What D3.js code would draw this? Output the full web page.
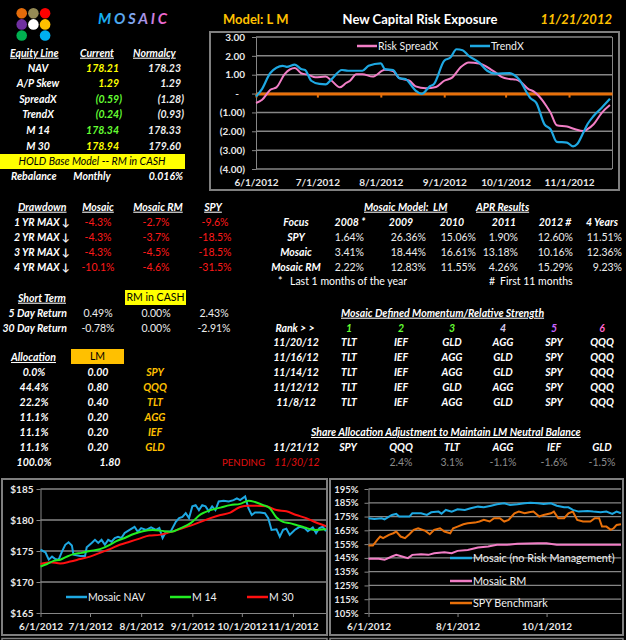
<!DOCTYPE html>
<html>
<head>
<meta charset="utf-8">
<script src="https://cdn.jsdelivr.net/npm/d3@7"></script>
<style>
  body { margin: 0; background: #000; }
  svg { display: block; }
  text { font-family: Lato, "DejaVu Sans", sans-serif; }
</style>
</head>
<body>
<svg width="626" height="640"></svg>
<script>
// ---- data ----
var riskTicks = [3, 2, 1, 0, -1, -2, -3, -4];
var monthTicks = ["6/1", "7/1", "8/1", "9/1", "10/1", "11/1"];
var spreadDates = ["6/1","6/4","6/8","6/11","6/15","6/20","6/23","6/27","6/30","7/5","7/8","7/12","7/15","7/17","7/20","7/23","7/28","8/3","8/7","8/10","8/15","8/18","8/23","8/28","9/1","9/5","9/9","9/13","9/18","9/21","9/24","9/26","9/29","10/3","10/6","10/8","10/12","10/15","10/17","10/21","10/23","10/26","10/31","11/4","11/8","11/10","11/13","11/17","11/21"];
var spreadValues = [-0.50,-0.33,0.20,0.33,1.03,1.35,1.09,0.98,0.86,0.90,0.68,0.33,0.56,0.68,1.03,1.03,0.90,1.26,1.20,0.82,0.68,0.38,0.28,0.35,0.68,0.86,1.39,1.65,1.60,1.47,1.26,1.12,0.88,0.77,0.74,0.65,0.25,0.09,-0.10,-0.67,-1.02,-1.68,-1.75,-1.89,-1.98,-1.89,-1.63,-1.02,-0.61];
var trendDates = ["6/1","6/4","6/8","6/14","6/16","6/20","6/23","6/25","6/28","7/2","7/5","7/8","7/13","7/16","7/23","7/26","8/1","8/3","8/7","8/10","8/13","8/18","8/21","8/25","8/27","9/1","9/4","9/7","9/10","9/13","9/18","9/22","9/26","10/3","10/5","10/8","10/11","10/13","10/16","10/20","10/23","10/26","10/31","11/3","11/5","11/8","11/10","11/13","11/17","11/21"];
var trendValues = [-0.16,0.25,1.09,1.47,1.42,1.54,1.30,1.25,0.68,0.51,0.49,0.77,1.25,1.21,1.21,1.47,1.60,1.30,1.25,0.82,0.77,0.16,-0.02,0.39,0.51,1.74,1.91,2.35,2.30,2.00,1.65,1.21,1.06,1.08,1.00,0.70,0.12,-0.23,-0.49,-1.63,-1.90,-2.56,-2.60,-2.80,-2.68,-2.07,-1.63,-1.19,-0.75,-0.28];

var navTicks = [165, 170, 175, 180, 185];
var navDates = ["6/1","6/4","6/6","6/8","6/10","6/12","6/14","6/16","6/18","6/20","6/21","6/25","6/28","6/29","7/2","7/4","7/6","7/8","7/10","7/12","7/14","7/16","7/18","7/20","7/22","7/25","7/28","7/30","8/1","8/4","8/7","8/10","8/12","8/14","8/16","8/19","8/22","8/24","8/26","8/28","8/30","9/1","9/3","9/5","9/7","9/9","9/11","9/13","9/15","9/17","9/20","9/23","9/26","9/28","9/30","10/3","10/5","10/7","10/9","10/12","10/15","10/17","10/19","10/22","10/24","10/26","10/28","10/30","11/2","11/5","11/8","11/10","11/13","11/15","11/17","11/19","11/21"];
var navValues = [175.2,174.8,173.6,174.1,173.7,173.6,174.9,176.0,176.4,175.9,174.4,174.2,174.2,175.6,176.3,176.8,176.3,176.8,176.0,176.8,176.5,177.1,177.3,177.1,177.9,178.4,178.9,178.1,178.7,178.4,178.8,178.4,178.7,177.1,178.1,178.2,179.7,180.3,180.5,181.1,180.3,182.2,182.4,181.6,182.4,182.2,181.4,182.2,181.6,183.0,183.1,183.0,183.2,183.5,183.2,183.8,181.9,180.8,181.2,181.2,181.1,180.3,178.4,178.5,177.3,178.4,178.6,177.6,178.4,178.9,178.7,178.2,178.8,177.9,178.7,178.9,178.2];
var m14Dates = ["6/1","6/5","6/9","6/13","6/17","6/21","6/26","7/1","7/7","7/13","7/17","7/22","7/27","8/2","8/8","8/15","8/19","8/25","8/31","9/6","9/12","9/18","9/24","9/30","10/5","10/9","10/14","10/18","10/22","10/26","10/30","11/3","11/8","11/14","11/21"];
var m14Values = [172.5,172.9,173.4,173.6,174.1,174.5,174.7,175.0,175.3,176.0,176.6,177.1,177.7,178.2,178.4,178.2,178.1,178.7,179.5,180.9,181.6,182.0,182.4,182.6,183.1,182.9,182.4,181.9,180.4,179.7,179.5,179.2,178.8,178.4,178.5];
var m30Dates = ["6/1","6/7","6/13","6/19","6/25","7/1","7/7","7/13","7/19","7/25","7/31","8/6","8/12","8/18","8/25","8/31","9/6","9/12","9/18","9/24","9/30","10/5","10/10","10/16","10/22","10/28","11/3","11/9","11/15","11/21"];
var m30Values = [172.9,173.2,173.0,173.3,173.7,174.1,174.7,175.3,176.0,176.5,177.0,177.5,177.6,178.0,178.6,179.1,179.7,180.3,180.8,181.2,182.1,182.3,182.3,182.2,181.6,181.4,180.8,180.3,179.6,179.0];

var growthTicks = [105, 115, 125, 135, 145, 155, 165, 175, 185, 195];
var growthMonths = ["6/1", "8/1", "10/1"];
var noRmDates = ["6/1","6/5","6/10","6/12","6/17","6/20","6/22","6/29","7/1","7/7","7/11","7/14","7/19","7/21","7/24","7/28","8/1","8/6","8/10","8/15","8/19","8/24","8/28","9/2","9/6","9/11","9/16","9/20","9/25","9/29","10/4","10/8","10/13","10/16","10/19","10/23","10/29","11/2","11/7","11/11","11/15","11/18","11/21"];
var noRmValues = [173.8,173.3,173.8,173.0,176.2,176.9,175.0,175.0,177.4,177.4,176.2,178.1,178.6,177.1,179.8,178.6,180.3,179.8,181.0,182.2,181.7,182.9,183.9,184.6,183.4,183.9,184.6,185.1,184.6,184.1,184.6,182.9,181.7,181.7,179.8,178.6,179.1,178.6,178.1,178.6,176.9,178.6,177.4];
var rmDates = ["6/1","6/8","6/12","6/17","6/20","6/24","6/28","7/1","7/7","7/12","7/16","7/23","7/28","8/1","8/8","8/15","8/22","8/28","9/4","9/11","9/18","9/25","10/1","10/8","11/21"];
var rmValues = [144.3,144.3,143.6,146.0,147.2,146.0,144.8,147.2,147.7,147.2,148.4,149.1,148.4,150.1,150.8,152.5,153.3,154.5,154.5,155.2,155.4,155.7,155.7,154.5,154.5];
var spyDates = ["6/1","6/4","6/7","6/9","6/11","6/15","6/18","6/20","6/23","6/26","6/29","7/2","7/5","7/10","7/13","7/16","7/20","7/23","7/27","7/29","8/1","8/5","8/8","8/13","8/16","8/19","8/23","8/26","8/30","9/2","9/5","9/9","9/12","9/16","9/19","9/22","9/26","9/29","10/4","10/6","10/9","10/13","10/16","10/19","10/22","10/26","10/31","11/3","11/6","11/8","11/11","11/14","11/16","11/18","11/21"];
var spyValues = [154.0,154.0,158.1,160.5,159.3,161.7,162.9,164.1,160.5,159.3,162.2,165.4,166.5,164.6,162.2,165.4,166.5,164.1,162.9,166.5,167.7,169.4,170.1,170.6,171.4,172.6,171.4,173.8,173.8,171.4,172.6,177.4,178.6,177.4,178.1,178.6,175.0,176.2,177.4,178.6,173.8,173.8,177.4,178.6,172.6,171.4,171.4,173.8,173.8,167.7,167.7,165.4,166.5,168.9,169.4];

var equityRows = ["NAV", "A/P Skew", "SpreadX", "TrendX", "M 14", "M 30"];
var equityCurrent = ["178.21", "1.29", "(0.59)", "(0.24)", "178.34", "178.94"];
var equityNormalcy = ["178.23", "1.29", "(1.28)", "(0.93)", "178.33", "179.60"];
var drawRows = ["1 YR MAX \u2193", "2 YR MAX \u2193", "3 YR MAX \u2193", "4 YR MAX \u2193"];
var drawMosaic = ["-4.3%", "-4.3%", "-4.3%", "-10.1%"];
var drawRM = ["-2.7%", "-3.7%", "-4.5%", "-4.6%"];
var drawSPY = ["-9.6%", "-18.5%", "-18.5%", "-31.5%"];
var aprYears = ["2008 *", "2009", "2010", "2011", "2012 #", "4 Years"];
var aprRows = ["SPY", "Mosaic", "Mosaic RM"];
var aprSPY = ["1.64%", "26.36%", "15.06%", "1.90%", "12.60%", "11.51%"];
var aprMosaic = ["3.41%", "18.44%", "16.61%", "13.18%", "10.16%", "12.36%"];
var aprRM = ["2.22%", "12.83%", "11.55%", "4.26%", "15.29%", "9.23%"];
var shortRows = ["5 Day Return", "30 Day Return"];
var short5 = ["0.49%", "0.00%", "2.43%"];
var short30 = ["-0.78%", "0.00%", "-2.91%"];
var ranks = ["1", "2", "3", "4", "5", "6"];
var rankDates = ["11/20/12", "11/16/12", "11/14/12", "11/12/12", "11/8/12"];
var rankTickers = [
  ["TLT", "IEF", "GLD", "AGG", "SPY", "QQQ"],
  ["TLT", "IEF", "AGG", "GLD", "SPY", "QQQ"],
  ["TLT", "IEF", "AGG", "GLD", "SPY", "QQQ"],
  ["TLT", "IEF", "GLD", "AGG", "SPY", "QQQ"],
  ["TLT", "IEF", "AGG", "GLD", "SPY", "QQQ"]
];
var allocPct = ["0.0%", "44.4%", "22.2%", "11.1%", "11.1%", "11.1%"];
var allocWeight = ["0.00", "0.80", "0.40", "0.20", "0.20", "0.20"];
var allocTickers = ["SPY", "QQQ", "TLT", "AGG", "IEF", "GLD"];
var shareTickers = ["SPY", "QQQ", "TLT", "AGG", "IEF", "GLD"];
var shareAdjust = ["", "2.4%", "3.1%", "-1.1%", "-1.6%", "-1.5%"];

// ---- drawing ----
var parseDay = d3.timeParse("%m/%d/%Y");
function day(s) { return parseDay(s + "/2012"); }
function pairs(ds, vs) { return ds.map(function(d, i) { return {date: day(d), value: vs[i]}; }); }

var svg = d3.select("svg");
svg.append("rect").attr("width", 626).attr("height", 640).attr("fill", "#000");

function txt(g, x, y, s, o) {
  o = o || {};
  var t = g.append("text").attr("x", x).attr("y", y).attr("dy", "0.35em")
    .attr("text-anchor", o.anchor || "start")
    .attr("fill", o.fill || "#fff")
    .attr("font-size", o.size || 10.5)
    .attr("font-weight", o.weight || "bold")
    .attr("font-style", o.italic === false ? "normal" : "italic")
    .style("white-space", "pre")
    .text(s);
  if (o.u) t.style("text-decoration", "underline");
  return t;
}
function styleAxis(a, size) {
  a.select(".domain").attr("stroke", "#868686");
  a.selectAll(".tick line").attr("stroke", "#868686");
  a.selectAll(".tick text").attr("fill", "#e8e8e8").attr("font-size", size).attr("font-weight", "bold");
}

var PINK = "#F27EC6", BLUE = "#1EA8E2", ORANGE = "#E8700A", GOLD = "#FFC000";

// logo
var logoColors = ["#E46C0A", "#948A54", "#FF0000", "#7030A0", "#FFFFFF", "#FFC000", "#00B050", null, "#00B0F0"];
svg.append("g").selectAll("circle").data(logoColors).join("circle")
  .attr("cx", function(d, i) { return 21.7 + (i % 3) * 11.7; })
  .attr("cy", function(d, i) { return 13.3 + Math.floor(i / 3) * 11.1; })
  .attr("r", 5.3)
  .attr("fill", function(d) { return d || "none"; });

var grad = svg.append("defs").append("linearGradient").attr("id", "mosaicGrad");
grad.append("stop").attr("offset", "0%").attr("stop-color", "#00B0F0");
grad.append("stop").attr("offset", "55%").attr("stop-color", "#8FA6F0");
grad.append("stop").attr("offset", "100%").attr("stop-color", "#FF5FC8");
txt(svg, 98, 19, "MOSAIC", {size: 15, fill: "url(#mosaicGrad)"})
  .attr("textLength", 69).attr("lengthAdjust", "spacing");

// header
txt(svg, 223, 19, "Model: L M", {size: 13, fill: GOLD, italic: false});
txt(svg, 420, 19, "New Capital Risk Exposure", {size: 13, anchor: "middle", italic: false});
txt(svg, 612, 19, "11/21/2012", {size: 13, anchor: "end", fill: GOLD});

// ---- risk exposure chart ----
var rg = svg.append("g");
rg.append("rect").attr("x", 210).attr("y", 32).attr("width", 409).attr("height", 158)
  .attr("fill", "#000").attr("stroke", "#7f7f7f").attr("stroke-width", 2);
var rx = d3.scaleTime().domain([day("6/1"), day("11/22")]).range([256, 612]);
var ry = d3.scaleLinear().domain([-4, 3]).range([169, 37]);
rg.append("g").selectAll("line").data(riskTicks).join("line")
  .attr("x1", 256).attr("x2", 612).attr("y1", ry).attr("y2", ry)
  .attr("stroke", "#868686").attr("stroke-width", 1.5);
rg.append("line").attr("x1", 612.5).attr("x2", 612.5).attr("y1", ry(3)).attr("y2", ry(-4))
  .attr("stroke", "#868686");
function acct(v) {
  if (v === 0) return "-";
  return v < 0 ? "(" + d3.format(".2f")(-v) + ")" : d3.format(".2f")(v);
}
var ra = rg.append("g").attr("transform", "translate(256,0)")
  .call(d3.axisLeft(ry).tickValues(riskTicks).tickSize(4).tickSizeOuter(0).tickPadding(7).tickFormat(acct));
styleAxis(ra, 10);
ra.selectAll(".tick text").filter(function(d) { return d === 0; }).attr("dx", "-0.6em");
var rb = rg.append("g").attr("transform", "translate(0,169)")
  .call(d3.axisBottom(rx).tickValues(monthTicks.map(day)).tickSize(0).tickPadding(10)
    .tickFormat(d3.timeFormat("%-m/%-d/%Y")));
rb.select(".domain").remove();
styleAxis(rb, 10);
var rz = rg.append("g").attr("transform", "translate(0," + ry(0) + ")")
  .call(d3.axisBottom(rx).tickValues(monthTicks.map(day)).tickSize(4).tickSizeOuter(0).tickFormat(""));
rz.select(".domain").attr("stroke", ORANGE).attr("stroke-width", 3);
rz.selectAll(".tick line").attr("stroke", ORANGE).attr("stroke-width", 2);

var rline = d3.line().x(function(d) { return rx(d.date); }).y(function(d) { return ry(d.value); }).curve(d3.curveMonotoneX);
rg.append("path").datum(pairs(spreadDates, spreadValues)).attr("d", rline)
  .attr("fill", "none").attr("stroke", PINK).attr("stroke-width", 2);
rg.append("path").datum(pairs(trendDates, trendValues)).attr("d", rline)
  .attr("fill", "none").attr("stroke", BLUE).attr("stroke-width", 2.2);
[{name: "Risk SpreadX", color: PINK, x: 357}, {name: "TrendX", color: BLUE, x: 470}].forEach(function(l) {
  rg.append("line").attr("x1", l.x).attr("x2", l.x + 20).attr("y1", 46).attr("y2", 46)
    .attr("stroke", l.color).attr("stroke-width", 2.5);
  txt(rg, l.x + 21, 46, l.name, {size: 10.5, weight: "normal", italic: false, fill: "#f0f0f0"});
});

// ---- equity line table ----
var eq = svg.append("g");
txt(eq, 10, 53, "Equity Line", {u: true});
txt(eq, 80, 53, "Current", {u: true});
txt(eq, 133, 53, "Normalcy", {u: true});
var curColors = ["#FFFF00", "#FFFF00", "#66FF33", "#66FF33", "#66FF33", "#FFFF00"];
equityRows.forEach(function(r, i) {
  var y = 68 + i * 15.6;
  txt(eq, 38, y, r, {anchor: "middle"});
  txt(eq, equityCurrent[i].indexOf(")") > 0 ? 122 : 119, y, equityCurrent[i], {anchor: "end", fill: curColors[i]});
  txt(eq, equityNormalcy[i].indexOf(")") > 0 ? 184 : 181, y, equityNormalcy[i], {anchor: "end", fill: "#f0f0f0"});
});
eq.append("rect").attr("x", 0).attr("y", 154).attr("width", 185).attr("height", 15).attr("fill", "#FFFF00");
txt(eq, 92, 161.5, "HOLD Base Model -- RM in CASH", {anchor: "middle", fill: "#000", weight: "normal"});
txt(eq, 11, 176, "Rebalance");
txt(eq, 92, 176, "Monthly", {anchor: "middle"});
txt(eq, 183, 176, "0.016%", {anchor: "end"});

// ---- drawdown table ----
var dd = svg.append("g");
txt(dd, 18, 207, "Drawdown", {u: true});
txt(dd, 98, 207, "Mosaic", {u: true, anchor: "middle"});
txt(dd, 158, 207, "Mosaic RM", {u: true, anchor: "middle"});
txt(dd, 213, 207, "SPY", {u: true, anchor: "middle"});
drawRows.forEach(function(r, i) {
  var y = 222 + i * 15;
  txt(dd, 14, y, r);
  [drawMosaic, drawRM, drawSPY].forEach(function(col, j) {
    txt(dd, [98, 156, 215][j], y, col[i], {anchor: "middle", fill: "#FF1A1A", italic: false, weight: "normal"});
  });
});

// ---- APR results ----
var ap = svg.append("g");
txt(ap, 364, 207, "Mosaic Model:  LM", {u: true});
txt(ap, 476, 207, "APR Results", {u: true});
var aprCenters = [350, 401, 452, 504, 555, 602], aprRight = [364, 426, 476, 518, 573, 622];
txt(ap, 296, 222, "Focus", {anchor: "middle"});
aprYears.forEach(function(yr, j) { txt(ap, aprCenters[j], 222, yr, {anchor: "middle"}); });
[aprSPY, aprMosaic, aprRM].forEach(function(row, i) {
  var y = 237 + i * 15;
  txt(ap, 296, y, aprRows[i], {anchor: "middle"});
  row.forEach(function(v, j) {
    txt(ap, aprRight[j], y, v, {anchor: "end", italic: false, weight: "normal", fill: "#ececec"});
  });
});
txt(ap, 278, 281, "*", {italic: false, weight: "normal"});
txt(ap, 290, 281, "Last 1 months of the year", {italic: false, weight: "normal"});
txt(ap, 489, 281, "#", {italic: false, weight: "normal"});
txt(ap, 500, 281, "First 11 months", {italic: false, weight: "normal"});

// ---- short term ----
var st = svg.append("g");
txt(st, 18, 298, "Short Term", {u: true});
st.append("rect").attr("x", 125).attr("y", 290).attr("width", 61).attr("height", 15).attr("fill", "#FFFF00");
txt(st, 155.5, 297.5, "RM in CASH", {anchor: "middle", fill: "#000", italic: false, weight: "normal"});
[short5, short30].forEach(function(row, i) {
  var y = 313 + i * 15;
  txt(st, 67, y, shortRows[i], {anchor: "end"});
  row.forEach(function(v, j) {
    txt(st, [98, 156, 214][j], y, v, {anchor: "middle", italic: false, weight: "normal", fill: "#ececec"});
  });
});

// ---- momentum ranks ----
var mo = svg.append("g");
var rankCols = [349, 401, 452, 503, 554, 602];
var rankColors = ["#66FF33", "#66FF33", "#66FF33", "#D9CCF2", "#CC66FF", "#FF66CC"];
txt(mo, 341, 313, "Mosaic Defined Momentum/Relative Strength", {u: true});
txt(mo, 295, 328, "Rank > >", {anchor: "middle"});
ranks.forEach(function(r, j) { txt(mo, rankCols[j], 328, r, {anchor: "middle", fill: rankColors[j]}); });
rankDates.forEach(function(d, i) {
  var y = 342.3 + i * 15;
  txt(mo, 296, y, d, {anchor: "middle"});
  rankTickers[i].forEach(function(t, j) { txt(mo, rankCols[j], y, t, {anchor: "middle"}); });
});

// ---- allocation ----
var al = svg.append("g");
txt(al, 11, 357.3, "Allocation", {u: true});
al.append("rect").attr("x", 71).attr("y", 349).attr("width", 53).attr("height", 15).attr("fill", GOLD);
txt(al, 97.5, 356.5, "LM", {anchor: "middle", fill: "#000", italic: false, weight: "normal"});
allocPct.forEach(function(p, i) {
  var y = 372.3 + i * 15;
  txt(al, 34, y, p, {anchor: "middle"});
  txt(al, 98, y, allocWeight[i], {anchor: "middle"});
  txt(al, 155, y, allocTickers[i], {anchor: "middle", fill: GOLD});
});
txt(al, 34, 462.3, "100.0%", {anchor: "middle"});
txt(al, 110, 462.3, d3.format(".2f")(d3.sum(allocWeight, Number)), {anchor: "middle"});

// ---- share allocation ----
var sh = svg.append("g");
txt(sh, 311, 432.3, "Share Allocation Adjustment to Maintain LM Neutral Balance", {u: true});
txt(sh, 296, 447.3, "11/21/12", {anchor: "middle"});
shareTickers.forEach(function(t, j) { txt(sh, [348, 401, 452, 503, 554, 602][j], 447.3, t, {anchor: "middle"}); });
txt(sh, 222, 462.3, "PENDING", {fill: "#E01010", italic: false, weight: "normal", size: 9.6});
txt(sh, 297, 462.3, "11/30/12", {anchor: "middle", fill: "#E01010", weight: "normal"});
shareAdjust.forEach(function(v, j) {
  txt(sh, rankCols[j], 462.3, v, {anchor: "middle", fill: "#8c8c8c", italic: false, weight: "normal"});
});

// ---- NAV chart (bottom left) ----
var ng = svg.append("g");
ng.append("rect").attr("x", 2).attr("y", 479).attr("width", 325).attr("height", 156)
  .attr("fill", "#000").attr("stroke", "#7f7f7f").attr("stroke-width", 2);
var nx = d3.scaleTime().domain([day("6/1"), day("11/21")]).range([40.5, 326]);
var ny = d3.scaleLinear().domain([165, 185]).range([613, 489]);
ng.append("g").selectAll("line").data(navTicks.slice(1)).join("line")
  .attr("x1", 40.5).attr("x2", 326).attr("y1", ny).attr("y2", ny)
  .attr("stroke", "#868686").attr("stroke-width", 1.3);
var na = ng.append("g").attr("transform", "translate(40.5,0)")
  .call(d3.axisLeft(ny).tickValues(navTicks).tickSize(4).tickSizeOuter(0).tickPadding(3)
    .tickFormat(function(d) { return "$" + d; }));
styleAxis(na, 10);
var nb = ng.append("g").attr("transform", "translate(0,613)")
  .call(d3.axisBottom(nx).tickValues(monthTicks.map(day)).tickSize(4).tickSizeOuter(0).tickPadding(6)
    .tickFormat(d3.timeFormat("%-m/%-d/%Y")));
styleAxis(nb, 10);
var nline = d3.line().x(function(d) { return nx(d.date); }).y(function(d) { return ny(d.value); });
var nsmooth = d3.line().x(function(d) { return nx(d.date); }).y(function(d) { return ny(d.value); }).curve(d3.curveMonotoneX);
ng.append("path").datum(pairs(navDates, navValues)).attr("d", nline)
  .attr("fill", "none").attr("stroke", BLUE).attr("stroke-width", 2);
ng.append("path").datum(pairs(m30Dates, m30Values)).attr("d", nsmooth)
  .attr("fill", "none").attr("stroke", "#FF1010").attr("stroke-width", 2);
ng.append("path").datum(pairs(m14Dates, m14Values)).attr("d", nsmooth)
  .attr("fill", "none").attr("stroke", "#22EE22").attr("stroke-width", 2);
[{name: "Mosaic NAV", color: BLUE, x: 66}, {name: "M 14", color: "#22EE22", x: 170}, {name: "M 30", color: "#FF1010", x: 247}].forEach(function(l) {
  ng.append("line").attr("x1", l.x).attr("x2", l.x + 21).attr("y1", 597).attr("y2", 597)
    .attr("stroke", l.color).attr("stroke-width", 2.5);
  txt(ng, l.x + 22, 597, l.name, {size: 10.5, weight: "normal", italic: false, fill: "#f0f0f0"});
});

// ---- growth chart (bottom right) ----
var gg = svg.append("g");
gg.append("rect").attr("x", 330).attr("y", 479).attr("width", 293).attr("height", 156)
  .attr("fill", "#000").attr("stroke", "#7f7f7f").attr("stroke-width", 2);
var gx = d3.scaleTime().domain([day("6/1"), day("11/21")]).range([368.5, 621]);
var gy = d3.scaleLinear().domain([105, 195]).range([613, 489]);
gg.append("g").selectAll("line").data(growthTicks.slice(1)).join("line")
  .attr("x1", 368.5).attr("x2", 621).attr("y1", gy).attr("y2", gy)
  .attr("stroke", "#868686").attr("stroke-width", 1.3);
var ga = gg.append("g").attr("transform", "translate(368.5,0)")
  .call(d3.axisLeft(gy).tickValues(growthTicks).tickSize(4).tickSizeOuter(0).tickPadding(6)
    .tickFormat(function(d) { return d + "%"; }));
styleAxis(ga, 9.5);
var gb = gg.append("g").attr("transform", "translate(0,613)")
  .call(d3.axisBottom(gx).tickValues(growthMonths.map(day)).tickSize(4).tickSizeOuter(0).tickPadding(6)
    .tickFormat(d3.timeFormat("%-m/%-d/%Y")));
styleAxis(gb, 10);
var gline = d3.line().x(function(d) { return gx(d.date); }).y(function(d) { return gy(d.value); });
gg.append("path").datum(pairs(spyDates, spyValues)).attr("d", gline)
  .attr("fill", "none").attr("stroke", ORANGE).attr("stroke-width", 2);
gg.append("path").datum(pairs(rmDates, rmValues)).attr("d", gline)
  .attr("fill", "none").attr("stroke", PINK).attr("stroke-width", 2);
gg.append("path").datum(pairs(noRmDates, noRmValues)).attr("d", gline)
  .attr("fill", "none").attr("stroke", BLUE).attr("stroke-width", 2);
[{name: "Mosaic (no Risk Management)", color: BLUE, y: 558}, {name: "Mosaic RM", color: PINK, y: 581}, {name: "SPY Benchmark", color: ORANGE, y: 603}].forEach(function(l) {
  gg.append("line").attr("x1", 450).attr("x2", 472).attr("y1", l.y).attr("y2", l.y)
    .attr("stroke", l.color).attr("stroke-width", 2.5);
  txt(gg, 473, l.y, l.name, {size: 10.8, weight: "normal", italic: false, fill: "#f0f0f0"});
});

// frames of the row below the charts
svg.append("path").attr("d", "M2,645V638.5H327V645M330,645V638.5H623V645")
  .attr("fill", "none").attr("stroke", "#7f7f7f").attr("stroke-width", 1.5);
</script>
</body>
</html>
